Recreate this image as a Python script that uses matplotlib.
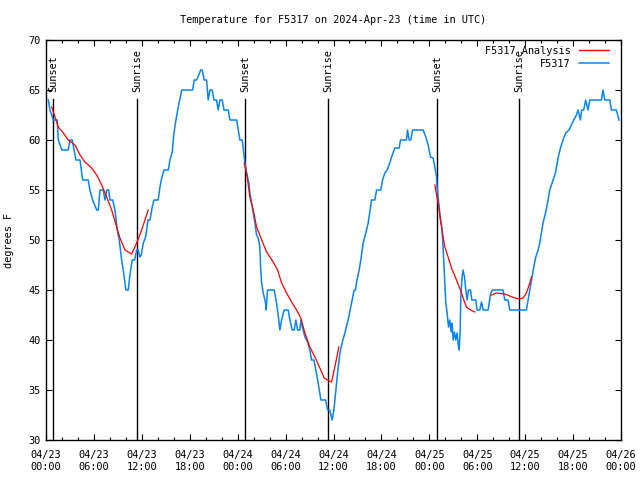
import matplotlib
matplotlib.use("Agg")
import matplotlib.pyplot as plt
from matplotlib.ticker import MultipleLocator, FixedLocator
from matplotlib.lines import Line2D

# Hours since 2024-04-23 00:00 UTC
obs_hours = [0.29, 0.5, 0.91, 1.41, 1.54, 2.0, 2.79, 3.0, 3.29, 3.75, 4.26, 4.59, 5.29, 5.5, 5.84,
             6.35, 6.55, 6.76, 7.17, 7.38, 7.6, 7.85, 8.0, 8.35, 8.64, 8.92, 9.17, 9.47, 9.67, 10.01,
             10.3, 10.51, 10.8, 11.1, 11.35, 11.55, 11.76, 11.93, 12.18, 12.48, 12.77, 13.02, 13.3,
             13.52, 14.05, 14.27, 14.43, 14.77, 15.31, 15.52, 15.81, 16.02, 16.23, 16.43, 16.65,
             16.93, 16.98, 18.36, 18.56, 18.86, 19.19, 19.36, 19.56, 19.81, 20.11, 20.31, 20.53,
             20.81, 21.03, 21.36, 21.56, 21.78, 22.07, 22.28, 22.82, 23.03, 23.87, 24.07, 24.28,
             24.57, 24.91, 25.12, 25.41, 25.53, 25.74, 25.95, 26.16, 26.37, 26.57, 26.78, 26.87,
             27.0, 27.2, 27.5, 27.57, 27.74, 28.57, 28.87, 29.07, 29.29, 29.5, 29.82, 30.33, 30.54,
             30.83, 31.08, 31.29, 31.5, 31.79, 31.92, 32.13, 32.42, 32.75, 33.04, 33.25, 33.54,
             33.79, 34.08, 34.42, 35.01, 35.26, 35.54, 35.83, 36.05, 36.26, 36.51, 36.8, 37.08,
             37.42, 37.83, 38.26, 38.59, 38.76, 38.89, 39.21, 39.42, 39.71, 40.05, 40.34, 40.55,
             40.76, 41.18, 41.39, 41.93, 42.14, 42.43, 42.72, 43.05, 43.27, 43.68, 44.22, 44.39,
             45.14, 45.27, 45.47, 45.68, 45.9, 47.22, 47.56, 47.85, 48.15, 48.47, 48.69, 48.9,
             48.97, 49.1, 49.22, 49.4, 49.56, 49.72, 49.94, 50.06, 50.23, 50.4, 50.56, 50.73,
             50.85, 50.98, 51.15, 51.31, 51.48, 51.65, 51.73, 51.85, 51.94, 52.1, 52.23, 52.4,
             52.57, 52.73, 52.9, 53.15, 53.32, 53.82, 53.98, 54.32, 54.53, 54.73, 55.36, 55.69,
             55.91, 57.23, 57.45, 57.86, 58.07, 60.16, 60.36, 60.58, 60.79, 61.08, 61.33, 61.62,
             61.83, 62.24, 62.58, 62.87, 63.08, 63.49, 63.79, 64.12, 64.42, 64.74, 65.08, 65.49,
             66.08, 66.42, 66.62, 66.92, 67.08, 67.33, 67.58, 67.87, 68.09, 69.55, 69.75, 69.96,
             70.59, 70.8, 71.42, 71.75]
obs_temps = [64, 63, 62, 62, 60, 59, 59, 60, 60, 58, 58, 56, 56, 55, 54,
             53, 53, 55, 55, 54, 55, 55, 54, 54, 53, 51, 50, 48, 47, 45,
             45, 46.5, 48, 48, 49, 49, 48.3, 48.5, 49.7, 50.3, 52, 52, 53.3,
             54, 54, 55.3, 56, 57, 57, 58, 58.8, 60.7, 61.8, 62.7, 63.7,
             64.7, 65, 65, 66, 66, 66.6, 67, 67, 66, 66, 64, 65,
             65, 64, 64, 63, 64, 64, 63, 63, 62, 62, 61, 60,
             60, 57.7, 56.7, 55.7, 54.7, 53.7, 52.7, 51.7, 50.5, 50.2, 49.3, 47.3,
             45.7, 44.7, 43.7, 43, 45, 45, 43.7, 42.5, 41, 42, 43, 43, 42,
             41, 41, 42, 41, 41, 42, 41.2, 40.3, 39.8, 39, 38, 38,
             37, 35.7, 34, 34, 33, 33, 32, 33, 34.7, 36.7, 38.7, 39.7,
             40.7, 42, 43.7, 45, 45, 45.8, 47, 48, 49.7, 50.7, 51.7, 52.8,
             54, 54, 55, 55, 56, 56.7, 57, 57.7, 58.3, 59.2, 59.2, 60,
             60, 61, 60, 60, 61, 61, 60.3, 59.5, 58.3, 58.2, 57.3, 56.3,
             55.3, 54.3, 53.3, 52, 51.3, 49.3, 45.7, 43.7, 42.7, 41.3, 42, 40.8,
             41.7, 40, 40.8, 40, 40.7, 39.3, 39, 40.7, 44.3, 46.3, 47, 46.3,
             45, 44, 45, 45, 44, 44, 43, 43, 43.8, 43, 43, 44.7,
             45, 45, 44, 44, 43, 43, 44, 45, 46, 47.3, 48.3, 49,
             49.7, 51.7, 52.8, 54, 55, 56, 56.7, 58.2, 59.2, 60, 60.7, 61,
             62, 62.5, 63, 62, 63, 63, 64, 63, 64, 64, 65, 64,
             64, 63, 63, 62]

# Analysis segments
ana1_hours = [0.71, 1.13, 1.54, 2.17, 2.79, 3.63, 4.26, 4.88, 5.72, 6.35, 6.97, 7.6, 8.22,
              8.85, 9.26, 9.89, 10.73, 11.35, 11.98, 12.8]
ana1_temps = [63.3, 62.3, 61.3, 60.7, 60, 59.5, 58.5, 57.8, 57.2, 56.5, 55.5, 54.3, 53,
              51.3, 50.2, 49, 48.6, 49.7, 51, 53]
ana2_hours = [24.82, 25.12, 25.53, 25.95, 26.37, 26.91, 27.62, 28.45, 29.0, 29.5, 30.13,
              30.75, 31.38, 31.91, 32.42, 33.04, 33.67, 34.29, 34.83, 35.26, 35.76, 36.17, 36.67]
ana2_temps = [57.7, 56.7, 54.3, 53, 51.3, 50.2, 48.8, 47.8, 47, 45.7, 44.7,
              43.8, 43, 42.2, 40.7, 39.3, 38.3, 37.2, 36.2, 36, 35.8, 37.3, 39.3]
ana3_hours = [48.69, 49.1, 49.4, 49.65, 49.94, 50.35, 50.78, 51.4, 51.9, 52.23, 52.65,
              53.15, 53.69]
ana3_temps = [55.5, 53.7, 52, 50.7, 49.3, 48.3, 47.2, 46, 45, 44.2, 43.3, 43, 42.8]
ana4_hours = [55.78, 56.4, 57.45, 58.07, 58.7, 59.24, 59.74, 60.16, 60.58, 60.79]
ana4_temps = [44.5, 44.7, 44.6, 44.4, 44.2, 44.1, 44.2, 44.7, 45.7, 46.3]

sun_hours = [0.92, 11.43, 24.95, 35.33, 48.98, 59.24]
sun_labels = ["Sunset", "Sunrise", "Sunset", "Sunrise", "Sunset", "Sunrise"]

xtick_hours = [0, 6, 12, 18, 24, 30, 36, 42, 48, 54, 60, 66, 72]
xtick_labels = ["04/23\n00:00", "04/23\n06:00", "04/23\n12:00", "04/23\n18:00",
                "04/24\n00:00", "04/24\n06:00", "04/24\n12:00", "04/24\n18:00",
                "04/25\n00:00", "04/25\n06:00", "04/25\n12:00", "04/25\n18:00",
                "04/26\n00:00"]

FONT = "DejaVu Sans Mono"
FS = 7.4
plt.rcParams['font.family'] = FONT
plt.rcParams['font.size'] = FS

fig = plt.figure(figsize=(6.4, 4.8), dpi=100)
ax = fig.add_axes([46/640, 1-440/480, 575/640, 400/480])

RED = "#ff0000"
BLUE = "#0a84f5"

for h, t in [(ana1_hours, ana1_temps), (ana2_hours, ana2_temps),
             (ana3_hours, ana3_temps), (ana4_hours, ana4_temps)]:
    ax.plot(h, t, color=RED, lw=0.9, zorder=3)
ax.plot(obs_hours, obs_temps, color=BLUE, lw=1.1, zorder=2)

for h, lab in zip(sun_hours, sun_labels):
    ax.axvline(h, ymin=0, ymax=(64.1-30)/40, color="black", lw=1.0, zorder=1)
    ax.text(h, 64.8, lab, rotation=90, ha="center", va="bottom", fontsize=FS)

ax.set_xlim(0, 72)
ax.set_ylim(30, 70)
ax.xaxis.set_major_locator(FixedLocator(xtick_hours))
ax.set_xticklabels(xtick_labels, linespacing=1.3)
ax.xaxis.set_minor_locator(MultipleLocator(2))
ax.yaxis.set_major_locator(MultipleLocator(5))
ax.tick_params(axis="both", which="major", direction="in", length=4.5, width=0.8,
               top=True, right=True, labelsize=FS, pad=4)
ax.tick_params(axis="x", which="major", pad=7)
ax.tick_params(axis="x", which="minor", direction="in", length=2.5, width=0.8, top=True)
ax.set_ylabel("degrees F", fontsize=FS, labelpad=10)
for s in ax.spines.values():
    s.set_linewidth(1.0)

fig.text((46+621)/2/640, 1-20/480, "Temperature for F5317 on 2024-Apr-23 (time in UTC)",
         ha="center", va="center", fontsize=FS)

handles = [Line2D([], [], color=RED, lw=1.0), Line2D([], [], color=BLUE, lw=1.1)]
leg = ax.legend(handles, ["F5317 Analysis", "F5317"], loc="upper right",
                bbox_to_anchor=(0.979, 0.985), frameon=False, markerfirst=False,
                borderpad=0, borderaxespad=0, handlelength=2.9, handletextpad=0.8,
                labelspacing=0.25, fontsize=FS)
for t in leg.get_texts():
    t.set_ha("right")

fig.savefig("out.png", dpi=100)
